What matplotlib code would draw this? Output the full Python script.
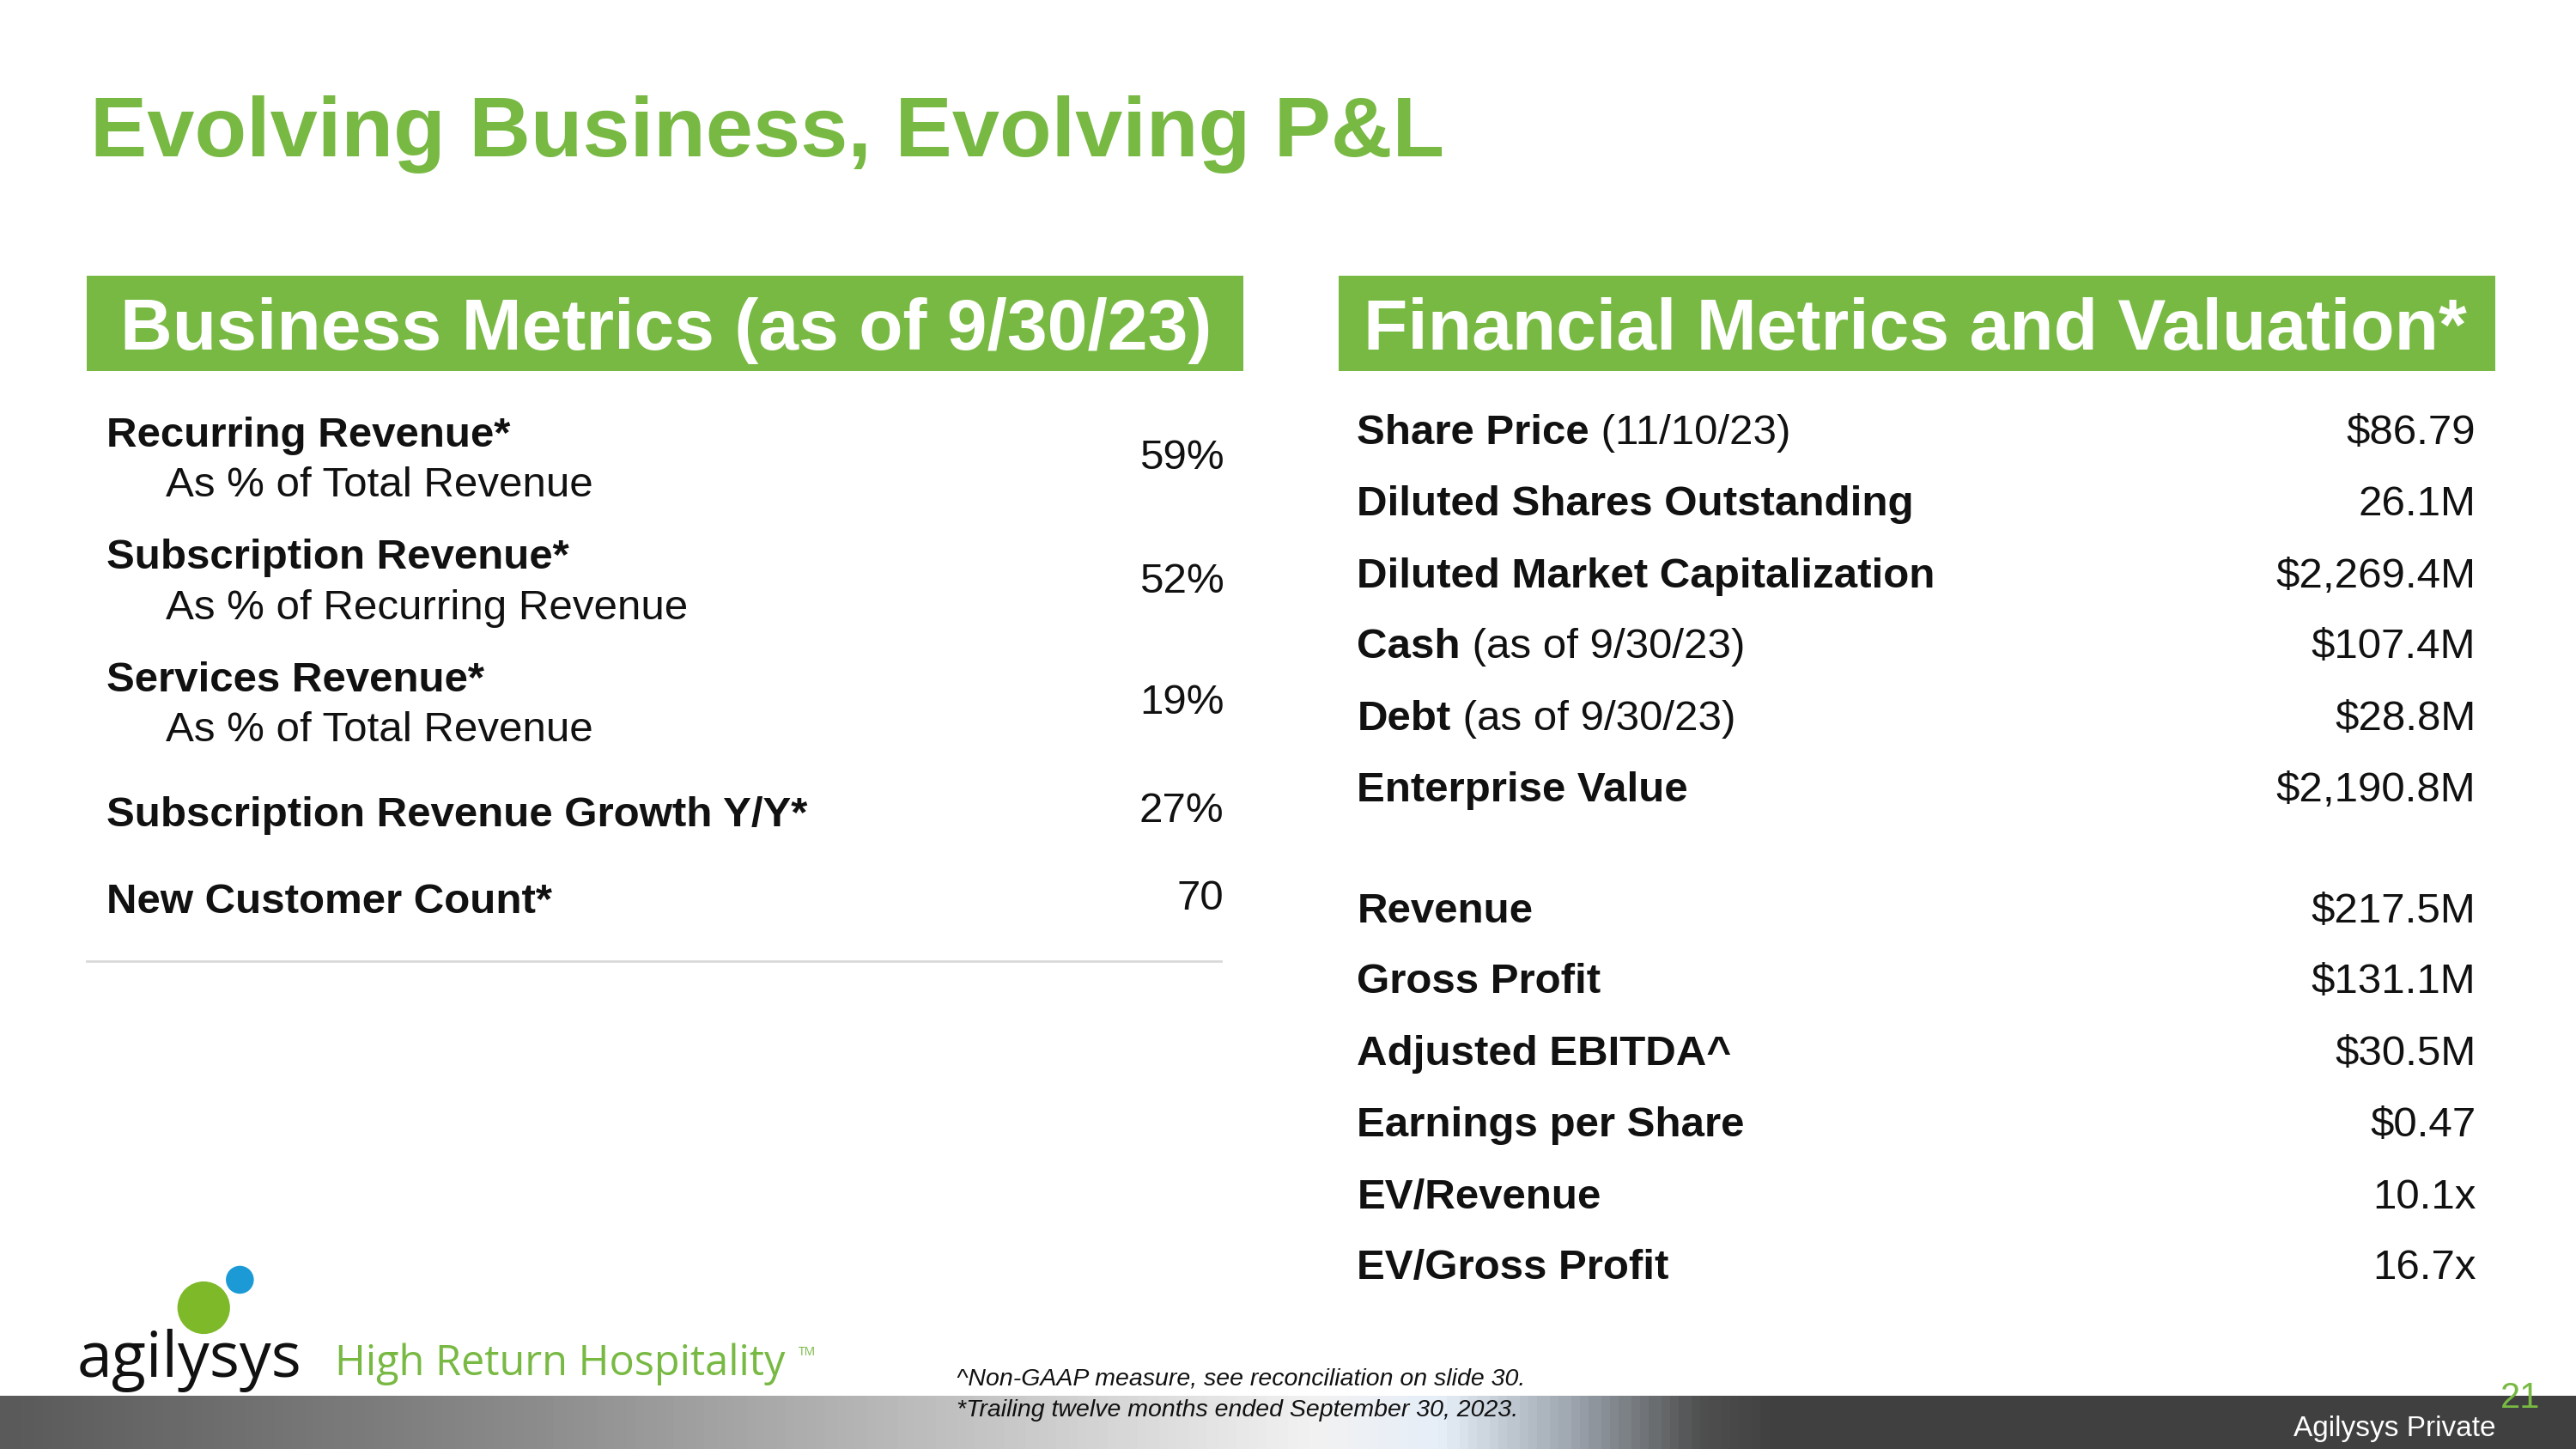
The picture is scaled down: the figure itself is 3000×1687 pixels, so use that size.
import matplotlib
matplotlib.use("Agg")
import matplotlib.pyplot as plt
import numpy as np
from matplotlib.patches import Rectangle, Circle
from matplotlib.colors import LinearSegmentedColormap

GREEN = "#78B943"
FONT = "Liberation Sans"

title = "Evolving Business, Evolving P&L"
left_header = "Business Metrics (as of 9/30/23)"
right_header = "Financial Metrics and Valuation*"

left_labels = ["Recurring Revenue*", "Subscription Revenue*", "Services Revenue*",
               "Subscription Revenue Growth Y/Y*", "New Customer Count*"]
left_sublabels = ["As % of Total Revenue", "As % of Recurring Revenue", "As % of Total Revenue", "", ""]
left_values = ["59%", "52%", "19%", "27%", "70"]

right_labels = ["Share Price", "Diluted Shares Outstanding", "Diluted Market Capitalization",
                "Cash", "Debt", "Enterprise Value", "Revenue", "Gross Profit",
                "Adjusted EBITDA^", "Earnings per Share", "EV/Revenue", "EV/Gross Profit"]
right_suffix = [" (11/10/23)", "", "", " (as of 9/30/23)", " (as of 9/30/23)", "", "", "", "", "", "", ""]
right_values = ["$86.79", "26.1M", "$2,269.4M", "$107.4M", "$28.8M", "$2,190.8M",
                "$217.5M", "$131.1M", "$30.5M", "$0.47", "10.1x", "16.7x"]

footnotes = ["^Non-GAAP measure, see reconciliation on slide 30.",
             "*Trailing twelve months ended September 30, 2023."]

fig = plt.figure(figsize=(30, 16.87), dpi=100)
ax = fig.add_axes([0, 0, 1, 1])
ax.set_xlim(0, 1568)
ax.set_ylim(882, 0)
ax.axis("off")

ax.text(55, 95, title, fontsize=71.5, color=GREEN, fontweight="bold", family=FONT, va="baseline")

BS = 35.5
for x0, txt, tx in [(53, left_header, 73), (815, right_header, 830)]:
    ax.add_patch(Rectangle((x0, 168), 704, 58, color=GREEN, lw=0))
    ax.text(tx, 213, txt, fontsize=60.5, color="white", fontweight="bold", family=FONT, va="baseline")

lab_base = [272, 346, 421, 503, 556]
sub_base = [302, 377, 451, None, None]
val_y = [279, 354, 428, 494, 547]
for i in range(len(left_labels)):
    ax.text(65, lab_base[i], left_labels[i], fontsize=BS, fontweight="bold", family=FONT, va="baseline", color="#111")
    if left_sublabels[i]:
        ax.text(101, sub_base[i], left_sublabels[i], fontsize=BS, family=FONT, va="baseline", color="#111")
    ax.text(745, val_y[i], left_values[i], fontsize=BS, family=FONT, va="center", ha="right", color="#111")
ax.plot([53, 743], [585, 585], color="#d9d9d9", lw=2)

row_y = [264, 307, 351, 394, 438, 481, 555, 598, 642, 685, 729, 772]
fig.canvas.draw()
r = fig.canvas.get_renderer()
inv = ax.transData.inverted()
for i in range(len(right_labels)):
    t = ax.text(826, row_y[i], right_labels[i], fontsize=BS, fontweight="bold", family=FONT, va="center", color="#111")
    if right_suffix[i]:
        bb = t.get_window_extent(renderer=r)
        xe = inv.transform((bb.x1, bb.y0))[0]
        ax.text(xe, row_y[i], right_suffix[i], fontsize=BS, family=FONT, va="center", color="#111")
    ax.text(1507, row_y[i], right_values[i], fontsize=BS, family=FONT, va="center", ha="right", color="#111")

# logo
ax.add_patch(Circle((124, 796), 16, color="#7DB928", lw=0))
ax.add_patch(Circle((146, 779), 8.5, color="#1B9AD6", lw=0))
ax.text(47, 838, "agilysys", fontsize=53, family="Open Sans", va="baseline", color="#111")
ax.text(204, 837, "High Return Hospitality", fontsize=35, family="Open Sans", va="baseline", color=GREEN)
ax.text(486, 825, "TM", fontsize=10, family="Open Sans", va="baseline", color=GREEN)

stops = [(0.0, "#5a5a5a"), (0.2, "#8a8a8a"), (0.38, "#c4c4c4"), (0.51, "#f2f2f2"),
         (0.56, "#e6eef8"), (0.61, "#9ea6b0"), (0.66, "#505050"), (0.69, "#404040"), (1.0, "#404040")]
cmap = LinearSegmentedColormap.from_list("bar", stops)
grad = np.linspace(0, 1, 600).reshape(1, -1)
ax.imshow(grad, cmap=cmap, extent=(0, 1568, 882, 850), aspect="auto", zorder=0)
ax.set_xlim(0, 1568)
ax.set_ylim(882, 0)

ax.text(582, 843, footnotes[0], fontsize=20.5, style="italic", family=FONT, va="baseline", color="#111", zorder=3)
ax.text(582, 862, footnotes[1], fontsize=20.5, style="italic", family=FONT, va="baseline", color="#111", zorder=3)
ax.text(1546, 857, "21", fontsize=30, family=FONT, ha="right", va="baseline", color=GREEN, zorder=3)
ax.text(1519, 874, "Agilysys Private", fontsize=24, family=FONT, ha="right", va="baseline", color="white", zorder=3)

fig.savefig("out.png", dpi=100)
